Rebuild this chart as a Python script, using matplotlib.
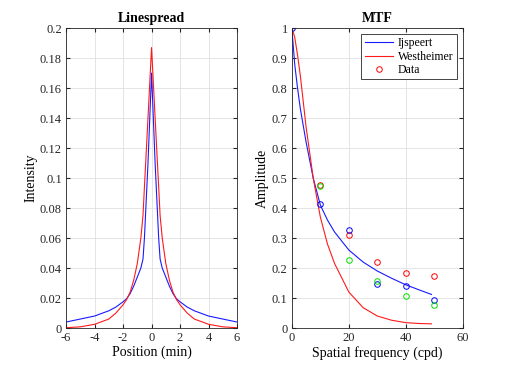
import matplotlib.pyplot as plt
import numpy as np

plt.rcParams['font.family'] = ['Liberation Serif', 'DejaVu Serif']
plt.rcParams['axes.unicode_minus'] = False

# Linespread (position in min, intensity)
pos = [-6, -5, -4, -3, -2.5, -2, -1.75, -1.5, -1.25, -1, -0.75, -0.6, -0.5, -0.25, 0,
       0.25, 0.5, 0.6, 0.75, 1, 1.25, 1.5, 1.75, 2, 2.5, 3, 4, 5, 6]
ijspeert_ls = [0.004, 0.006, 0.008, 0.0115, 0.014, 0.0175, 0.0195, 0.023, 0.028, 0.034, 0.040, 0.046,
               0.060, 0.11, 0.17,
               0.11, 0.060, 0.046, 0.040, 0.034, 0.028, 0.023, 0.0195, 0.0175, 0.014, 0.0115,
               0.008, 0.006, 0.004]
westheimer_ls = [0.0002, 0.0008, 0.0025, 0.006, 0.010, 0.0155, 0.019, 0.024, 0.032, 0.043, 0.060, 0.075,
                 0.094, 0.140, 0.187,
                 0.140, 0.094, 0.075, 0.060, 0.043, 0.032, 0.024, 0.019, 0.0155, 0.010, 0.006,
                 0.0025, 0.0008, 0.0002]

# MTF curves (cpd, amplitude)
freq = [0, 1, 2, 3, 5, 7.5, 10, 12.5, 15, 20, 25, 30, 35, 40, 45, 49]
ijspeert_mtf = [1.0, 0.88, 0.80, 0.73, 0.62, 0.50, 0.41, 0.36, 0.32, 0.26, 0.22, 0.19, 0.166, 0.144, 0.126, 0.112]
westheimer_mtf = [1.0, 0.97, 0.91, 0.84, 0.67, 0.50, 0.37, 0.28, 0.215, 0.12, 0.068, 0.040, 0.026, 0.018, 0.015, 0.014]

# measured data
data_x = [0, 10, 20, 30, 40, 50]
data_blue = [1.0, 0.415, 0.327, 0.146, 0.141, 0.093]
data_x2 = [10, 20, 30, 40, 50]
data_red = [0.478, 0.31, 0.22, 0.184, 0.174]
data_green = [0.474, 0.228, 0.157, 0.107, 0.077]

fig = plt.figure(figsize=(5.12, 3.69), dpi=100)
ax1 = fig.add_axes([0.129, 0.111, 0.334, 0.813])
ax2 = fig.add_axes([0.570, 0.111, 0.334, 0.813])

for ax in (ax1, ax2):
    ax.grid(True, color='#e0e0e0', linewidth=0.6)
    ax.set_axisbelow(True)
    ax.tick_params(direction='in', top=True, right=True, labelsize=9, length=3,
                   color='#262626', labelcolor='#262626', pad=3)
    for s in ax.spines.values():
        s.set_color('#262626')
        s.set_linewidth(0.6)

ax1.plot(pos, ijspeert_ls, color='#1a1aff', lw=0.8)
ax1.plot(pos, westheimer_ls, color='#ff1a1a', lw=0.8)
ax1.set_xlim(-6, 6)
ax1.set_ylim(0, 0.2)
ax1.set_xticks([-6, -4, -2, 0, 2, 4, 6])
ax1.set_yticks(np.arange(0, 0.21, 0.02))
ax1.set_yticklabels(['0', '0.02', '0.04', '0.06', '0.08', '0.1', '0.12', '0.14', '0.16', '0.18', '0.2'])
ax1.set_title('Linespread', fontsize=10, fontweight='bold', pad=4)
ax1.set_xlabel('Position (min)', fontsize=10, labelpad=1)
ax1.set_ylabel('Intensity', fontsize=10, labelpad=2)

ax2.plot(freq, ijspeert_mtf, color='#1a1aff', lw=0.8, label='Ijspeert')
ax2.plot(freq, westheimer_mtf, color='#ff1a1a', lw=0.8, label='Westheimer')
ax2.plot(data_x2, data_red, 'o', mfc='none', mec='red', ms=4, mew=0.7, label='Data')
ax2.plot(data_x, data_blue, 'o', mfc='none', mec='blue', ms=4, mew=0.7)
ax2.plot(data_x2, data_green, 'o', mfc='none', mec='#00e000', ms=4, mew=0.7)
ax2.set_xlim(0, 60)
ax2.set_ylim(0, 1)
ax2.set_xticks([0, 20, 40, 60])
ax2.set_yticks(np.arange(0, 1.01, 0.1))
ax2.set_yticklabels(['0', '0.1', '0.2', '0.3', '0.4', '0.5', '0.6', '0.7', '0.8', '0.9', '1'])
ax2.set_title('MTF', fontsize=10, fontweight='bold', pad=4)
ax2.set_xlabel('Spatial frequency (cpd)', fontsize=10, labelpad=1)
ax2.set_ylabel('Amplitude', fontsize=10, labelpad=2)
leg = ax2.legend(loc='upper right', fontsize=8.5, fancybox=False, framealpha=1,
                 edgecolor='#262626', handlelength=2.4, borderpad=0.3, labelspacing=0.1,
                 handletextpad=0.4, borderaxespad=0.5)
leg.get_frame().set_linewidth(0.6)

fig.savefig('out.png', dpi=100)
